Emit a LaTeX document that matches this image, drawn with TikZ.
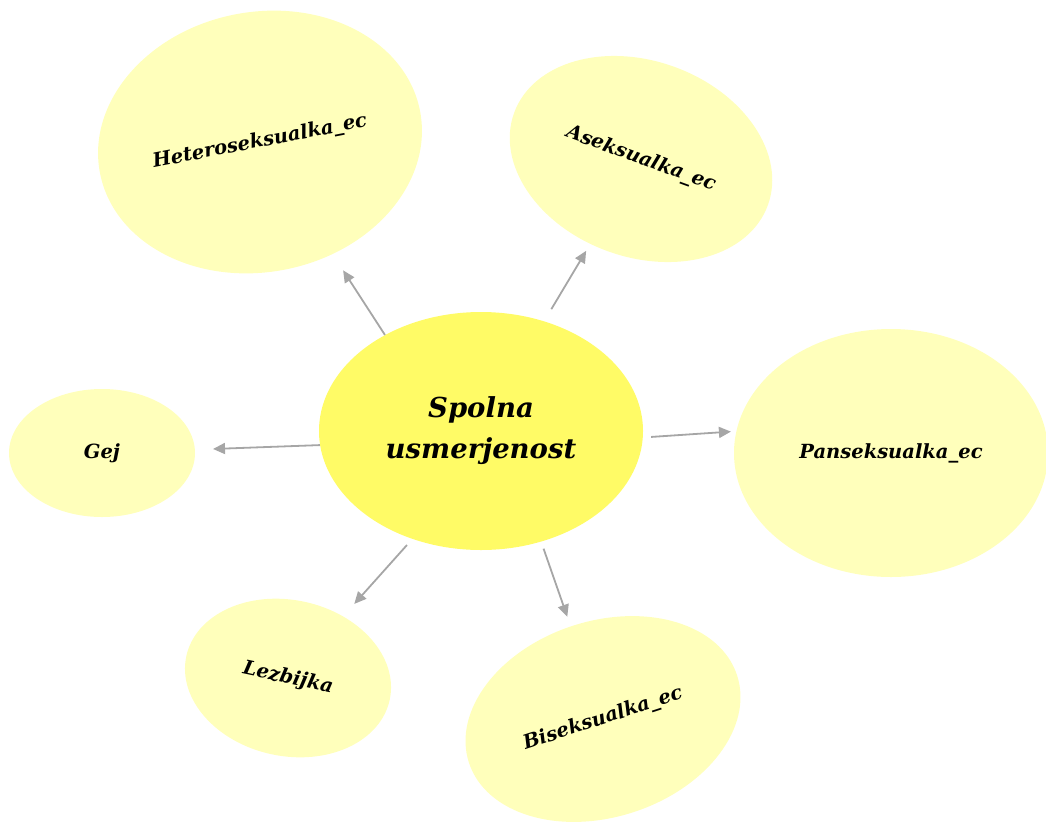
\documentclass[tikz,border=0pt]{standalone}
\usepackage{fontspec}
\setmainfont{DejaVu Serif}
\usetikzlibrary{shapes.geometric,arrows.meta,calc}
\definecolor{pale}{HTML}{FFFFBB}
\definecolor{core}{HTML}{FFFB66}
\definecolor{arrgray}{HTML}{A6A6A6}
\tikzset{
  leaf/.style={ellipse,fill=pale,draw=none,inner sep=0pt,font=\fontsize{19.5}{22}\selectfont\bfseries\itshape},
  hub/.style={ellipse,fill=core,draw=none,inner sep=0pt,align=center,font=\fontsize{27.5}{41}\selectfont\bfseries\itshape},
  link/.style={draw=arrgray,line width=1.8pt,-{Triangle[length=12pt,width=11pt]}}
}
\begin{document}
\begin{tikzpicture}[x=1pt,y=-1pt]
\useasboundingbox (0,0) rectangle (1046,822);
\node[leaf,minimum width=326pt,minimum height=260pt,rotate=11] (het) at (260,142) {Heteroseksualka\_ec};
\node[leaf,minimum width=270pt,minimum height=196pt,rotate=-20] (ase) at (641,159) {Aseksualka\_ec};
\node[leaf,minimum width=186pt,minimum height=128pt] (gej) at (102,453) {Gej};
\node[leaf,minimum width=314pt,minimum height=248pt] (pan) at (891,453) {Panseksualka\_ec};
\node[leaf,minimum width=208pt,minimum height=156pt,rotate=-12] (lez) at (288,678) {Lezbijka};
\node[leaf,minimum width=282pt,minimum height=196pt,rotate=18] (bis) at (603,719) {Biseksualka\_ec};
\node[hub,minimum width=324pt,minimum height=238pt] (hub) at (481,431) {Spolna\\usmerjenost};
\draw[link] (hub.135) -- ($(hub.135)!77pt!(het)$);
\draw[link] ($(hub.center)!1.11!(hub.60)$) -- ($($(hub.center)!1.11!(hub.60)$)!68pt!(ase)$);
\draw[link] (hub.185) -- ($(hub.185)!107pt!(gej)$);
\draw[link] ($(hub.center)!1.05!(hub.-2.4)$) -- ($($(hub.center)!1.05!(hub.-2.4)$)!80pt!(pan.172)$);
\draw[link] ($(hub.center)!1.06!(hub.237.6)$) -- ($($(hub.center)!1.06!(hub.237.6)$)!79pt!(lez)$);
\draw[link] ($(hub.center)!1.06!(hub.-62.3)$) -- ($($(hub.center)!1.06!(hub.-62.3)$)!72pt!(bis)$);
\end{tikzpicture}
\end{document}
